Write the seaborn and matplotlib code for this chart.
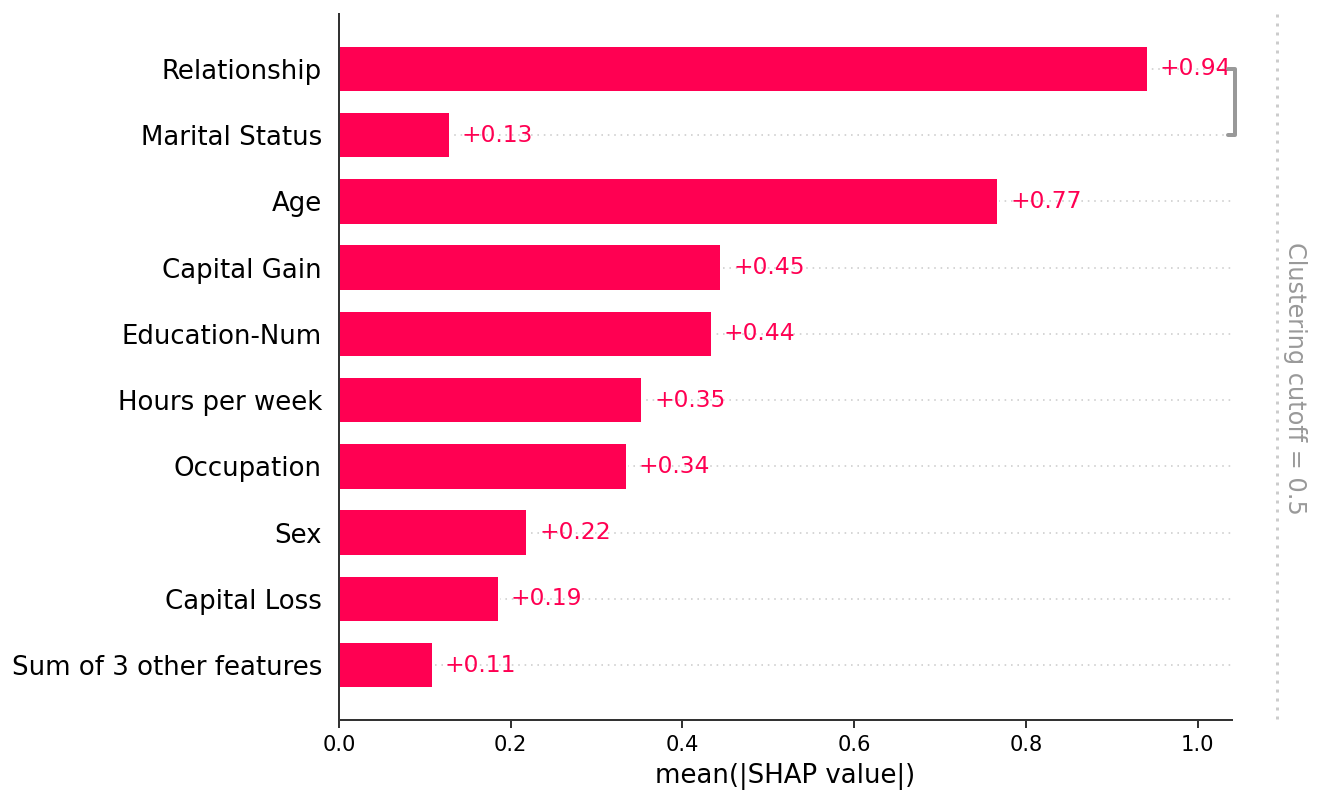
import numpy as np
import pandas as pd
import matplotlib.pyplot as plt
import seaborn as sns

# data
features = ['Relationship', 'Marital Status', 'Age', 'Capital Gain', 'Education-Num',
            'Hours per week', 'Occupation', 'Sex', 'Capital Loss', 'Sum of 3 other features']
shap_values = [0.942, 0.129, 0.768, 0.445, 0.434, 0.353, 0.335, 0.219, 0.186, 0.109]
value_labels = ['+0.94', '+0.13', '+0.77', '+0.45', '+0.44', '+0.35', '+0.34', '+0.22', '+0.19', '+0.11']
cluster_pair = [0, 1]
cutoff_text = 'Clustering cutoff = 0.5'

red = '#ff0052'

sns.set_style('white')
plt.rcParams['font.family'] = ['DejaVu Sans']

df = pd.DataFrame({'feature': features, 'value': shap_values})

fig = plt.figure(figsize=(1320 / 144, 804 / 144), dpi=144)
ax = fig.add_axes([0.2568, 0.1045, 0.9333 - 0.2568, 0.9826 - 0.1045])

sns.barplot(data=df, x='value', y='feature', color=red, saturation=1, width=0.7, ax=ax, zorder=2)

xmax = 1.04
ax.set_xlim(0, xmax)
ax.set_ylim(len(features) - 1 + 0.83, -0.83)

# dotted guide lines
for i in range(len(features)):
    ax.axhline(i, color='#cccccc', lw=0.8, dashes=(1, 3), zorder=1)

# value labels
for i, (v, lab) in enumerate(zip(shap_values, value_labels)):
    ax.text(v + 0.014, i, lab, va='center', ha='left', color=red, fontsize=11.7, zorder=3)

# clustering bracket
ax.plot([1.035, 1.043, 1.043, 1.035], [cluster_pair[0], cluster_pair[0], cluster_pair[1], cluster_pair[1]],
        color='#999999', lw=2, clip_on=False, zorder=3)

# cutoff line and label
ax.plot([1.092, 1.092], [-0.83, len(features) - 1 + 0.83], color='#cccccc', lw=1.5,
        dashes=(1, 2), clip_on=False)
ax.text(1.113, 4.68, cutoff_text, rotation=270, va='center', ha='center',
        color='#999999', fontsize=12, clip_on=False)

for s in ['top', 'right']:
    ax.spines[s].set_visible(False)
for s in ['left', 'bottom']:
    ax.spines[s].set_color('#333333')
    ax.spines[s].set_linewidth(1)

ax.tick_params(axis='y', length=0, pad=8.5, labelsize=13, labelcolor='black')
ax.tick_params(axis='x', length=4, width=1, color='#333333', labelsize=10.5, labelcolor='black', bottom=True)
ax.set_xticks([0.0, 0.2, 0.4, 0.6, 0.8, 1.0])
ax.set_xlabel('mean(|SHAP value|)', fontsize=13, color='black')
ax.set_ylabel('')

plt.savefig('out.png', dpi=144)
